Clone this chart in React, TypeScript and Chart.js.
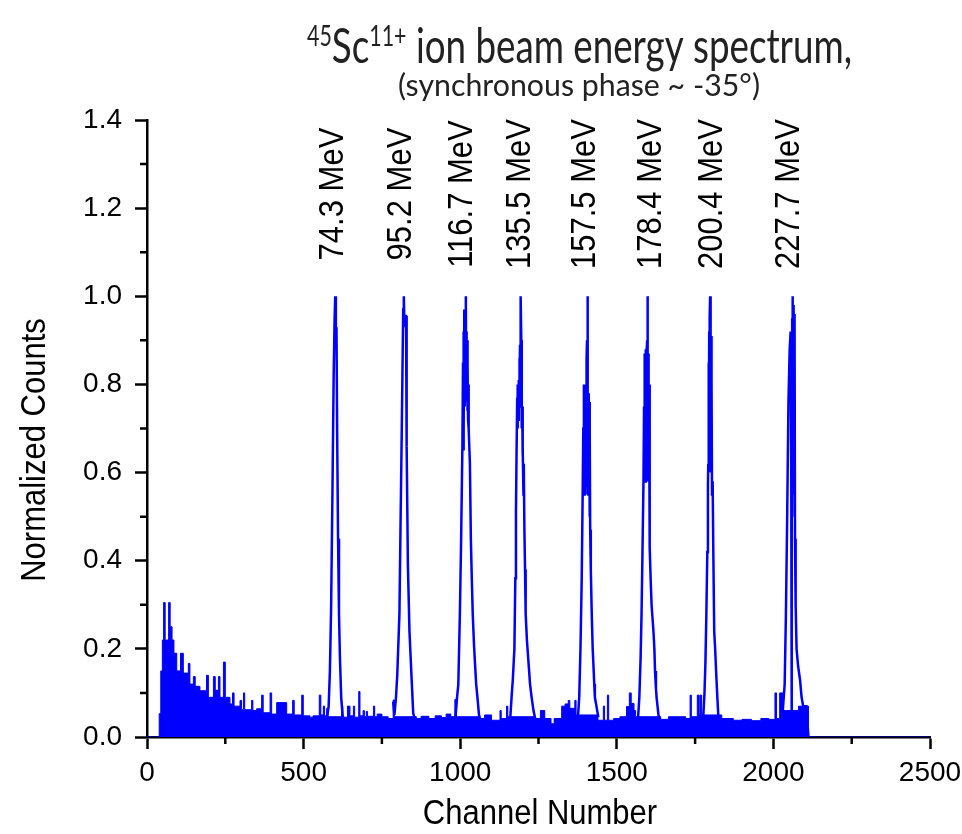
import React, { useEffect, useRef } from 'react';
import { Chart, registerables } from 'chart.js';

Chart.register(...registerables);

// ---------- data ----------
const xMajorTicks = [0, 500, 1000, 1500, 2000, 2500];
const xMinorTicks = [250, 750, 1250, 1750, 2250];
const yMinorTicks = [0.1, 0.3, 0.5, 0.7, 0.9, 1.1, 1.3];

// background (low-energy tail + noise floor), stepped levels
const bgChannels = [0, 39, 44, 49, 53, 58, 69, 74, 80, 86, 95, 107, 116, 132, 137, 148, 154, 169, 190, 196, 212, 218, 228, 233, 244, 250, 265, 273, 278, 297, 302, 308, 312, 334, 338, 350, 366, 371, 393, 398, 414, 446, 465, 470, 494, 499, 520, 530, 550, 555, 563, 567, 574, 578, 621, 625, 640, 648, 659, 663, 676, 680, 690, 694, 700, 704, 723, 727, 735, 750, 770, 786, 790, 860, 875, 900, 920, 940, 955, 970, 983, 988, 1060, 1078, 1100, 1127, 1131, 1148, 1152, 1240, 1256, 1270, 1290, 1300, 1324, 1335, 1345, 1350, 1366, 1370, 1440, 1457, 1461, 1470, 1474, 1490, 1510, 1531, 1540, 1546, 1555, 1560, 1640, 1665, 1700, 1720, 1734, 1738, 1757, 1763, 1766, 1771, 1835, 1872, 1900, 1930, 1960, 1985, 2005, 2010, 2020, 2030, 2080, 2112, 2500];
const bgLevels = [0, 0.053, 0.15, 0.22, 0.305, 0.22, 0.305, 0.25, 0.22, 0.19, 0.15, 0.19, 0.145, 0.167, 0.12, 0.137, 0.115, 0.105, 0.14, 0.09, 0.137, 0.106, 0.137, 0.09, 0.17, 0.09, 0.075, 0.1, 0.07, 0.083, 0.062, 0.1, 0.062, 0.083, 0.06, 0.064, 0.095, 0.055, 0.1, 0.052, 0.078, 0.052, 0.083, 0.05, 0.095, 0.048, 0.045, 0.048, 0.095, 0.05, 0.07, 0.048, 0.065, 0.046, 0.07, 0.045, 0.07, 0.048, 0.07, 0.045, 0.103, 0.048, 0.06, 0.046, 0.058, 0.047, 0.07, 0.046, 0.052, 0.046, 0.042, 0.084, 0.046, 0.042, 0.047, 0.042, 0.048, 0.044, 0.052, 0.046, 0.085, 0.046, 0.042, 0.05, 0.038, 0.06, 0.042, 0.07, 0.046, 0.042, 0.06, 0.042, 0.03, 0.042, 0.07, 0.075, 0.083, 0.065, 0.083, 0.05, 0.038, 0.07, 0.038, 0.095, 0.038, 0.042, 0.046, 0.069, 0.1, 0.076, 0.06, 0.046, 0.04, 0.046, 0.046, 0.042, 0.095, 0.046, 0.095, 0.05, 0.095, 0.05, 0.042, 0.038, 0.04, 0.037, 0.042, 0.04, 0.1, 0.042, 0.1, 0.06, 0.07, 0, 0];

// peaks
const peak1Ch = [575, 580, 584, 588, 592, 596, 599, 601, 603, 605, 607, 610, 613, 616, 620, 625];
const peak1Y = [0.045, 0.07, 0.15, 0.3, 0.55, 0.82, 0.95, 1.0, 0.92, 0.93, 0.7, 0.45, 0.28, 0.18, 0.09, 0.045];

const peak2Ch = [786, 790, 795, 799, 806, 810, 814, 818, 820, 822, 824, 827, 829, 833, 838, 845, 850, 856];
const peak2Y = [0.08, 0.05, 0.09, 0.14, 0.28, 0.51, 0.73, 0.97, 1.0, 0.93, 0.955, 0.955, 0.66, 0.39, 0.24, 0.13, 0.053, 0.04];

const peak3Ch = [985, 990, 994, 999, 1003, 1007, 1009, 1010, 1011, 1012, 1013, 1014, 1015, 1016, 1018, 1019, 1020, 1021, 1022, 1023, 1024, 1025, 1026, 1028, 1031, 1034, 1037, 1040, 1044, 1047, 1051, 1055, 1060, 1064];
const peak3Y = [0.045, 0.09, 0.12, 0.28, 0.45, 0.66, 0.85, 0.65, 0.92, 0.7, 0.97, 0.75, 0.95, 0.8, 1.0, 0.78, 0.92, 0.76, 0.9, 0.74, 0.85, 0.72, 0.8, 0.7, 0.62, 0.45, 0.36, 0.28, 0.21, 0.17, 0.12, 0.09, 0.05, 0.04];

const peak4Ch = [1160, 1164, 1168, 1173, 1176, 1178, 1180, 1182, 1183, 1184, 1185, 1187, 1188, 1189, 1190, 1191, 1192, 1194, 1195, 1196, 1197, 1198, 1199, 1200, 1202, 1203, 1205, 1207, 1209, 1213, 1218, 1223, 1228, 1234, 1240];
const peak4Y = [0.045, 0.09, 0.13, 0.2, 0.36, 0.51, 0.65, 0.77, 0.7, 0.8, 0.72, 0.81, 0.75, 0.86, 0.8, 0.89, 0.85, 1.0, 0.9, 0.87, 0.7, 0.75, 0.64, 0.66, 0.55, 0.62, 0.47, 0.38, 0.28, 0.22, 0.17, 0.12, 0.09, 0.06, 0.04];

const peak5Ch = [1376, 1380, 1384, 1388, 1391, 1393, 1395, 1396, 1397, 1398, 1399, 1400, 1401, 1402, 1403, 1404, 1405, 1406, 1407, 1408, 1409, 1410, 1411, 1412, 1413, 1414, 1415, 1417, 1420, 1423, 1425, 1428, 1430, 1435, 1441];
const peak5Y = [0.045, 0.09, 0.2, 0.36, 0.55, 0.7, 0.8, 0.55, 0.78, 0.56, 0.8, 0.55, 0.78, 0.57, 0.8, 0.86, 0.9, 1.0, 0.86, 0.78, 0.55, 0.78, 0.55, 0.76, 0.5, 0.7, 0.47, 0.38, 0.28, 0.2, 0.17, 0.12, 0.09, 0.07, 0.045];

const peak6Ch = [1568, 1572, 1576, 1579, 1582, 1585, 1587, 1588, 1589, 1590, 1591, 1592, 1593, 1594, 1595, 1596, 1597, 1598, 1599, 1600, 1601, 1602, 1603, 1604, 1606, 1608, 1611, 1614, 1617, 1620, 1622, 1625, 1627, 1633, 1638];
const peak6Y = [0.045, 0.09, 0.18, 0.28, 0.42, 0.57, 0.75, 0.87, 0.6, 0.87, 0.58, 0.88, 0.6, 0.87, 0.58, 0.88, 0.9, 1.0, 0.88, 0.6, 0.87, 0.58, 0.8, 0.5, 0.43, 0.36, 0.3, 0.27, 0.24, 0.2, 0.15, 0.11, 0.09, 0.05, 0.04];

const peak7Ch = [1776, 1780, 1783, 1786, 1789, 1791, 1792, 1793, 1794, 1795, 1796, 1797, 1798, 1799, 1800, 1801, 1802, 1803, 1804, 1806, 1808, 1811, 1814, 1817, 1821, 1824, 1832];
const peak7Y = [0.045, 0.1, 0.17, 0.28, 0.42, 0.57, 0.62, 0.85, 0.6, 0.92, 0.62, 0.95, 1.0, 0.88, 0.6, 0.91, 0.6, 0.8, 0.55, 0.58, 0.43, 0.24, 0.2, 0.15, 0.09, 0.05, 0.04];

const peak8Ch = [2030, 2036, 2040, 2044, 2048, 2052, 2055, 2057, 2058, 2059, 2060, 2061, 2062, 2063, 2064, 2065, 2066, 2067, 2068, 2069, 2071, 2074, 2079, 2085, 2090, 2095, 2105, 2112];
const peak8Y = [0.06, 0.12, 0.28, 0.5, 0.76, 0.88, 0.92, 0.6, 0.02, 0.45, 0.95, 0.6, 1.0, 0.7, 0.98, 0.55, 0.96, 0.5, 0.96, 0.45, 0.3, 0.2, 0.16, 0.13, 0.09, 0.07, 0.07, 0.0];

const peakLabels = ['74.3 MeV', '95.2 MeV', '116.7 MeV', '135.5 MeV', '157.5 MeV', '178.4 MeV', '200.4 MeV', '227.7 MeV'];
const peakLabelChannels = [594, 811, 1006, 1191, 1398, 1609, 1804, 2050];
const peakLabelLevel = 1.232;

const BLUE = '#0000ff';
const ARIAL = '"Liberation Sans", Arial, sans-serif';
const TITLE_FONT = 'Lato, "Open Sans", sans-serif';

function toPoints(ch: number[], ys: number[]) {
  return ch.map((c, i) => ({ x: c, y: ys[i] }));
}

export default function App() {
  const ref = useRef<HTMLCanvasElement>(null);

  useEffect(() => {
    const canvas = ref.current!;
    const peakSeries: [number[], number[]][] = [
      [peak1Ch, peak1Y], [peak2Ch, peak2Y], [peak3Ch, peak3Y], [peak4Ch, peak4Y],
      [peak5Ch, peak5Y], [peak6Ch, peak6Y], [peak7Ch, peak7Y], [peak8Ch, peak8Y],
    ];
    const peakData: any[] = [];
    peakSeries.forEach(([ch, ys]) => {
      peakData.push(...toPoints(ch, ys));
      peakData.push({ x: ch[ch.length - 1], y: null });
    });

    const overlay = {
      id: 'overlay',
      afterDraw(chart: any) {
        const ctx: CanvasRenderingContext2D = chart.ctx;
        const xs = chart.scales.x;
        const ys = chart.scales.y;
        const area = chart.chartArea;
        ctx.save();
        // minor ticks
        ctx.strokeStyle = '#000';
        ctx.lineWidth = 2.5;
        ctx.beginPath();
        xMinorTicks.forEach((v) => {
          const px = xs.getPixelForValue(v);
          ctx.moveTo(px, area.bottom);
          ctx.lineTo(px, area.bottom + 7);
        });
        yMinorTicks.forEach((v) => {
          const py = ys.getPixelForValue(v);
          ctx.moveTo(area.left, py);
          ctx.lineTo(area.left - 7, py);
        });
        ctx.stroke();

        // x tick labels
        ctx.fillStyle = '#000';
        ctx.font = `28px ${ARIAL}`;
        ctx.textAlign = 'center';
        ctx.textBaseline = 'middle';
        xMajorTicks.forEach((v) => {
          ctx.fillText(String(v), xs.getPixelForValue(v), area.bottom + 36);
        });

        // peak labels
        ctx.font = `31px ${ARIAL}`;
        peakLabels.forEach((t, i) => {
          const px = xs.getPixelForValue(peakLabelChannels[i]);
          const py = ys.getPixelForValue(peakLabelLevel);
          ctx.save();
          ctx.translate(px, py);
          ctx.rotate(-Math.PI / 2);
          ctx.scale(1, 1.15);
          ctx.fillText(t, 0, 0);
          ctx.restore();
        });

        // axis titles
        ctx.font = `31px ${ARIAL}`;
        ctx.save();
        ctx.translate(540, 814);
        ctx.scale(1, 1.12);
        ctx.fillText('Channel Number', 0, 0);
        ctx.restore();
        ctx.save();
        ctx.translate(35, 450);
        ctx.rotate(-Math.PI / 2);
        ctx.scale(1, 1.12);
        ctx.fillText('Normalized Counts', 0, 0);
        ctx.restore();

        // main title with superscripts
        ctx.fillStyle = '#222';
        ctx.textAlign = 'left';
        ctx.textBaseline = 'alphabetic';
        const big = 48, small = 28;
        const pieces = [
          { t: '45', s: small, sup: true },
          { t: 'Sc', s: big, sup: false },
          { t: '11+', s: small, sup: true },
          { t: ' ion beam energy spectrum,', s: big, sup: false },
        ];
        let W = 0;
        pieces.forEach((p) => { ctx.font = `${p.s}px ${TITLE_FONT}`; W += ctx.measureText(p.t).width; });
        const targetW = 545;
        const sx = targetW / W;
        ctx.save();
        ctx.translate(579.5 - targetW / 2, 63);
        ctx.scale(sx, 1);
        let cx = 0;
        pieces.forEach((p) => {
          ctx.font = `${p.s}px ${TITLE_FONT}`;
          ctx.fillText(p.t, cx, p.sup ? -17 : 0);
          cx += ctx.measureText(p.t).width;
        });
        ctx.restore();

        // subtitle
        const sub = '(synchronous phase ~ -35°)';
        ctx.font = `30px ${TITLE_FONT}`;
        const sw = ctx.measureText(sub).width;
        const subW = 362;
        ctx.save();
        ctx.translate(579 - subW / 2, 96);
        ctx.scale(subW / sw, 1);
        ctx.fillText(sub, 0, 0);
        ctx.restore();

        ctx.restore();
      },
    };

    const tickFont = { family: ARIAL, size: 28 };

    const chart = new Chart(canvas, {
      type: 'line',
      data: {
        datasets: [
          {
            data: peakData,
            borderColor: BLUE,
            borderWidth: 2.5,
            pointRadius: 0,
            fill: false,
            spanGaps: false,
            order: 0,
          } as any,
          {
            data: toPoints(bgChannels, bgLevels),
            borderColor: BLUE,
            backgroundColor: BLUE,
            borderWidth: 1,
            pointRadius: 0,
            stepped: true,
            fill: 'origin',
            order: 1,
          } as any,
        ],
      },
      options: {
        animation: false,
        responsive: false,
        devicePixelRatio: 1,
        events: [],
        layout: { padding: { left: 0, right: 32, top: 120, bottom: 0 }, autoPadding: false } as any,
        plugins: { legend: { display: false }, tooltip: { enabled: false }, title: { display: false } },
        scales: {
          x: {
            type: 'linear',
            min: 0,
            max: 2500,
            afterFit: (s: any) => { s.height = 97; s.paddingLeft = 0; s.paddingRight = 0; },
            afterBuildTicks: (s: any) => { s.ticks = xMajorTicks.map((v) => ({ value: v })); },
            border: { display: true, color: '#000', width: 2.5 },
            grid: { display: true, drawOnChartArea: false, drawTicks: true, tickLength: 12, tickWidth: 2.5, tickColor: '#000' },
            ticks: { display: false, autoSkip: false, maxRotation: 0 },
          },
          y: {
            type: 'linear',
            min: 0,
            max: 1.4,
            afterFit: (s: any) => { s.width = 147; },
            border: { display: true, color: '#000', width: 2.5 },
            grid: { display: true, drawOnChartArea: false, drawTicks: true, tickLength: 12, tickWidth: 2.5, tickColor: '#000' },
            ticks: {
              stepSize: 0.2, autoSkip: false, padding: 13, color: '#000',
              font: tickFont,
              callback: (v: any) => Number(v).toFixed(1),
            },
          },
        },
      },
      plugins: [overlay],
    });
    return () => chart.destroy();
  }, []);

  return (
    <div style={{ position: 'fixed', left: 0, top: 0, width: 962, height: 834, background: '#fff' }}>
      <canvas ref={ref} width={962} height={834} />
    </div>
  );
}
